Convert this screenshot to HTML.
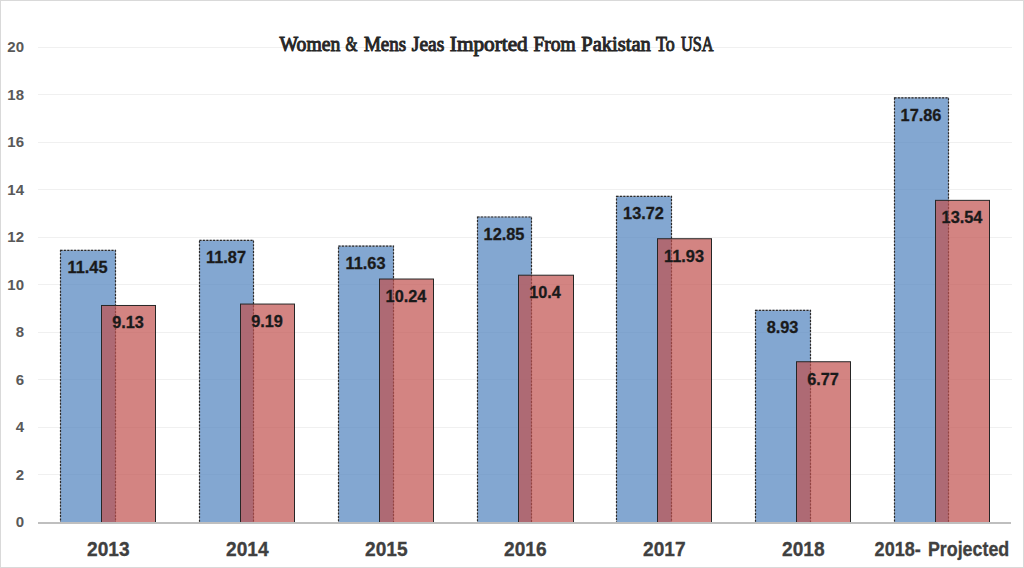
<!DOCTYPE html>
<html><head><meta charset="utf-8"><title>Chart</title>
<style>html,body{margin:0;padding:0;background:#fff;width:1024px;height:568px;overflow:hidden}svg{display:block}</style>
</head><body>
<svg width="1024" height="568" viewBox="0 0 1024 568">
<rect x="0.5" y="0.5" width="1023" height="567" fill="#fff" stroke="#d9d9d9" stroke-width="1"/>
<line x1="38.0" x2="1012.0" y1="474.5" y2="474.5" stroke="#f0f0f0" stroke-width="1"/>
<line x1="38.0" x2="1012.0" y1="427.5" y2="427.5" stroke="#f0f0f0" stroke-width="1"/>
<line x1="38.0" x2="1012.0" y1="379.5" y2="379.5" stroke="#f0f0f0" stroke-width="1"/>
<line x1="38.0" x2="1012.0" y1="332.5" y2="332.5" stroke="#f0f0f0" stroke-width="1"/>
<line x1="38.0" x2="1012.0" y1="284.5" y2="284.5" stroke="#f0f0f0" stroke-width="1"/>
<line x1="38.0" x2="1012.0" y1="237.5" y2="237.5" stroke="#f0f0f0" stroke-width="1"/>
<line x1="38.0" x2="1012.0" y1="189.5" y2="189.5" stroke="#f0f0f0" stroke-width="1"/>
<line x1="38.0" x2="1012.0" y1="142.5" y2="142.5" stroke="#f0f0f0" stroke-width="1"/>
<line x1="38.0" x2="1012.0" y1="94.5" y2="94.5" stroke="#f0f0f0" stroke-width="1"/>
<line x1="38.0" x2="1012.0" y1="47.5" y2="47.5" stroke="#f0f0f0" stroke-width="1"/>
<text transform="translate(279.59 0) scale(0.9847 1)" x="0" y="50.7" font-family="Liberation Serif, serif" font-weight="normal" font-size="20" fill="#262626" stroke="#262626" stroke-width="0.95">Women</text>
<text transform="translate(345.61 0) scale(0.7677 1)" x="0" y="50.7" font-family="Liberation Serif, serif" font-weight="normal" font-size="20" fill="#262626" stroke="#262626" stroke-width="0.95">&amp;</text>
<text transform="translate(363.90 0) scale(0.9514 1)" x="0" y="50.7" font-family="Liberation Serif, serif" font-weight="normal" font-size="20" fill="#262626" stroke="#262626" stroke-width="0.95">Mens</text>
<text transform="translate(411.80 0) scale(0.9758 1)" x="0" y="50.7" font-family="Liberation Serif, serif" font-weight="normal" font-size="20" fill="#262626" stroke="#262626" stroke-width="0.95">Jeas</text>
<text transform="translate(449.83 0) scale(1.0635 1)" x="0" y="50.7" font-family="Liberation Serif, serif" font-weight="normal" font-size="20" fill="#262626" stroke="#262626" stroke-width="0.95">Imported</text>
<text transform="translate(533.40 0) scale(0.9747 1)" x="0" y="50.7" font-family="Liberation Serif, serif" font-weight="normal" font-size="20" fill="#262626" stroke="#262626" stroke-width="0.95">From</text>
<text transform="translate(581.30 0) scale(1.0250 1)" x="0" y="50.7" font-family="Liberation Serif, serif" font-weight="normal" font-size="20" fill="#262626" stroke="#262626" stroke-width="0.95">Pakistan</text>
<text transform="translate(656.00 0) scale(0.8976 1)" x="0" y="50.7" font-family="Liberation Serif, serif" font-weight="normal" font-size="20" fill="#262626" stroke="#262626" stroke-width="0.95">To</text>
<text transform="translate(681.00 0) scale(0.8149 1)" x="0" y="50.7" font-family="Liberation Serif, serif" font-weight="normal" font-size="20" fill="#262626" stroke="#262626" stroke-width="0.95">USA</text>
<text x="24" y="527.10" text-anchor="end" font-family="Liberation Sans, sans-serif" font-weight="bold" font-size="15" fill="#595959">0</text>
<text x="24" y="479.60" text-anchor="end" font-family="Liberation Sans, sans-serif" font-weight="bold" font-size="15" fill="#595959">2</text>
<text x="24" y="432.10" text-anchor="end" font-family="Liberation Sans, sans-serif" font-weight="bold" font-size="15" fill="#595959">4</text>
<text x="24" y="384.60" text-anchor="end" font-family="Liberation Sans, sans-serif" font-weight="bold" font-size="15" fill="#595959">6</text>
<text x="24" y="337.10" text-anchor="end" font-family="Liberation Sans, sans-serif" font-weight="bold" font-size="15" fill="#595959">8</text>
<text x="24" y="289.60" text-anchor="end" font-family="Liberation Sans, sans-serif" font-weight="bold" font-size="15" fill="#595959">10</text>
<text x="24" y="242.10" text-anchor="end" font-family="Liberation Sans, sans-serif" font-weight="bold" font-size="15" fill="#595959">12</text>
<text x="24" y="194.60" text-anchor="end" font-family="Liberation Sans, sans-serif" font-weight="bold" font-size="15" fill="#595959">14</text>
<text x="24" y="147.10" text-anchor="end" font-family="Liberation Sans, sans-serif" font-weight="bold" font-size="15" fill="#595959">16</text>
<text x="24" y="99.60" text-anchor="end" font-family="Liberation Sans, sans-serif" font-weight="bold" font-size="15" fill="#595959">18</text>
<text x="24" y="52.10" text-anchor="end" font-family="Liberation Sans, sans-serif" font-weight="bold" font-size="15" fill="#595959">20</text>
<rect x="60.5" y="250.34" width="55" height="272.15999999999997" fill="#4f81bd" fill-opacity="0.7" stroke="#9ea6b4" stroke-width="1"/>
<rect x="60.5" y="250.34" width="55" height="272.15999999999997" fill="none" stroke="#2a2a2a" stroke-width="1.2" stroke-dasharray="2 1.4"/>
<rect x="199.5" y="240.34" width="54" height="282.15999999999997" fill="#4f81bd" fill-opacity="0.7" stroke="#9ea6b4" stroke-width="1"/>
<rect x="199.5" y="240.34" width="54" height="282.15999999999997" fill="none" stroke="#2a2a2a" stroke-width="1.2" stroke-dasharray="2 1.4"/>
<rect x="338.5" y="246.05" width="55" height="276.45" fill="#4f81bd" fill-opacity="0.7" stroke="#9ea6b4" stroke-width="1"/>
<rect x="338.5" y="246.05" width="55" height="276.45" fill="none" stroke="#2a2a2a" stroke-width="1.2" stroke-dasharray="2 1.4"/>
<rect x="477.5" y="217.02" width="54" height="305.48" fill="#4f81bd" fill-opacity="0.7" stroke="#9ea6b4" stroke-width="1"/>
<rect x="477.5" y="217.02" width="54" height="305.48" fill="none" stroke="#2a2a2a" stroke-width="1.2" stroke-dasharray="2 1.4"/>
<rect x="616.5" y="196.32" width="55" height="326.18" fill="#4f81bd" fill-opacity="0.7" stroke="#9ea6b4" stroke-width="1"/>
<rect x="616.5" y="196.32" width="55" height="326.18" fill="none" stroke="#2a2a2a" stroke-width="1.2" stroke-dasharray="2 1.4"/>
<rect x="755.5" y="310.3" width="55" height="212.2" fill="#4f81bd" fill-opacity="0.7" stroke="#9ea6b4" stroke-width="1"/>
<rect x="755.5" y="310.3" width="55" height="212.2" fill="none" stroke="#2a2a2a" stroke-width="1.2" stroke-dasharray="2 1.4"/>
<rect x="894.5" y="97.81" width="54" height="424.69" fill="#4f81bd" fill-opacity="0.7" stroke="#9ea6b4" stroke-width="1"/>
<rect x="894.5" y="97.81" width="54" height="424.69" fill="none" stroke="#2a2a2a" stroke-width="1.2" stroke-dasharray="2 1.4"/>
<rect x="101.5" y="305.48" width="54" height="217.01999999999998" fill="#c0504d" fill-opacity="0.7" stroke="#262626" stroke-width="1"/>
<rect x="240.5" y="304.05" width="54" height="218.45" fill="#c0504d" fill-opacity="0.7" stroke="#262626" stroke-width="1"/>
<rect x="379.5" y="279.02" width="54" height="243.48000000000002" fill="#c0504d" fill-opacity="0.7" stroke="#262626" stroke-width="1"/>
<rect x="518.5" y="275.2" width="55" height="247.3" fill="#c0504d" fill-opacity="0.7" stroke="#262626" stroke-width="1"/>
<rect x="657.5" y="238.73" width="54" height="283.77" fill="#c0504d" fill-opacity="0.7" stroke="#262626" stroke-width="1"/>
<rect x="796.5" y="361.74" width="54" height="160.76" fill="#c0504d" fill-opacity="0.7" stroke="#262626" stroke-width="1"/>
<rect x="935.5" y="200.35" width="54" height="322.15" fill="#c0504d" fill-opacity="0.7" stroke="#262626" stroke-width="1"/>
<line x1="38.0" x2="1011.0" y1="523.0" y2="523.0" stroke="#bfbfbf" stroke-width="2"/>
<text transform="translate(87.5 0) scale(0.96 1)" x="0" y="273.14" text-anchor="middle" font-family="Liberation Sans, sans-serif" font-weight="bold" font-size="17" fill="#1a1a1a" stroke="#1a1a1a" stroke-width="0.3">11.45</text>
<text transform="translate(128 0) scale(0.96 1)" x="0" y="328.28000000000003" text-anchor="middle" font-family="Liberation Sans, sans-serif" font-weight="bold" font-size="17" fill="#1a1a1a" stroke="#1a1a1a" stroke-width="0.3">9.13</text>
<text transform="translate(226.0 0) scale(0.96 1)" x="0" y="263.14" text-anchor="middle" font-family="Liberation Sans, sans-serif" font-weight="bold" font-size="17" fill="#1a1a1a" stroke="#1a1a1a" stroke-width="0.3">11.87</text>
<text transform="translate(267 0) scale(0.96 1)" x="0" y="326.85" text-anchor="middle" font-family="Liberation Sans, sans-serif" font-weight="bold" font-size="17" fill="#1a1a1a" stroke="#1a1a1a" stroke-width="0.3">9.19</text>
<text transform="translate(365.5 0) scale(0.96 1)" x="0" y="268.85" text-anchor="middle" font-family="Liberation Sans, sans-serif" font-weight="bold" font-size="17" fill="#1a1a1a" stroke="#1a1a1a" stroke-width="0.3">11.63</text>
<text transform="translate(406 0) scale(0.96 1)" x="0" y="301.82" text-anchor="middle" font-family="Liberation Sans, sans-serif" font-weight="bold" font-size="17" fill="#1a1a1a" stroke="#1a1a1a" stroke-width="0.3">10.24</text>
<text transform="translate(504.0 0) scale(0.96 1)" x="0" y="239.82000000000002" text-anchor="middle" font-family="Liberation Sans, sans-serif" font-weight="bold" font-size="17" fill="#1a1a1a" stroke="#1a1a1a" stroke-width="0.3">12.85</text>
<text transform="translate(545 0) scale(0.96 1)" x="0" y="298.0" text-anchor="middle" font-family="Liberation Sans, sans-serif" font-weight="bold" font-size="17" fill="#1a1a1a" stroke="#1a1a1a" stroke-width="0.3">10.4</text>
<text transform="translate(643.5 0) scale(0.96 1)" x="0" y="219.12" text-anchor="middle" font-family="Liberation Sans, sans-serif" font-weight="bold" font-size="17" fill="#1a1a1a" stroke="#1a1a1a" stroke-width="0.3">13.72</text>
<text transform="translate(684 0) scale(0.96 1)" x="0" y="261.53" text-anchor="middle" font-family="Liberation Sans, sans-serif" font-weight="bold" font-size="17" fill="#1a1a1a" stroke="#1a1a1a" stroke-width="0.3">11.93</text>
<text transform="translate(782.5 0) scale(0.96 1)" x="0" y="333.1" text-anchor="middle" font-family="Liberation Sans, sans-serif" font-weight="bold" font-size="17" fill="#1a1a1a" stroke="#1a1a1a" stroke-width="0.3">8.93</text>
<text transform="translate(823 0) scale(0.96 1)" x="0" y="384.54" text-anchor="middle" font-family="Liberation Sans, sans-serif" font-weight="bold" font-size="17" fill="#1a1a1a" stroke="#1a1a1a" stroke-width="0.3">6.77</text>
<text transform="translate(921.0 0) scale(0.96 1)" x="0" y="120.61" text-anchor="middle" font-family="Liberation Sans, sans-serif" font-weight="bold" font-size="17" fill="#1a1a1a" stroke="#1a1a1a" stroke-width="0.3">17.86</text>
<text transform="translate(962 0) scale(0.96 1)" x="0" y="223.15" text-anchor="middle" font-family="Liberation Sans, sans-serif" font-weight="bold" font-size="17" fill="#1a1a1a" stroke="#1a1a1a" stroke-width="0.3">13.54</text>
<text x="108.3" y="556" text-anchor="middle" font-family="Liberation Sans, sans-serif" font-weight="bold" font-size="19.5" fill="#404040" stroke="#404040" stroke-width="0.3" textLength="42.6" lengthAdjust="spacingAndGlyphs">2013</text>
<text x="247.3" y="556" text-anchor="middle" font-family="Liberation Sans, sans-serif" font-weight="bold" font-size="19.5" fill="#404040" stroke="#404040" stroke-width="0.3" textLength="42.6" lengthAdjust="spacingAndGlyphs">2014</text>
<text x="386.3" y="556" text-anchor="middle" font-family="Liberation Sans, sans-serif" font-weight="bold" font-size="19.5" fill="#404040" stroke="#404040" stroke-width="0.3" textLength="42.6" lengthAdjust="spacingAndGlyphs">2015</text>
<text x="525.3" y="556" text-anchor="middle" font-family="Liberation Sans, sans-serif" font-weight="bold" font-size="19.5" fill="#404040" stroke="#404040" stroke-width="0.3" textLength="42.6" lengthAdjust="spacingAndGlyphs">2016</text>
<text x="664.3" y="556" text-anchor="middle" font-family="Liberation Sans, sans-serif" font-weight="bold" font-size="19.5" fill="#404040" stroke="#404040" stroke-width="0.3" textLength="42.6" lengthAdjust="spacingAndGlyphs">2017</text>
<text x="803.3" y="556" text-anchor="middle" font-family="Liberation Sans, sans-serif" font-weight="bold" font-size="19.5" fill="#404040" stroke="#404040" stroke-width="0.3" textLength="42.6" lengthAdjust="spacingAndGlyphs">2018</text>
<text transform="translate(874.60 0) scale(0.9280 1)" x="0" y="556" font-family="Liberation Sans, sans-serif" font-weight="bold" font-size="19.5" fill="#404040" stroke="#404040" stroke-width="0.3">2018-</text>
<text transform="translate(927.88 0) scale(0.9161 1)" x="0" y="556" font-family="Liberation Sans, sans-serif" font-weight="bold" font-size="19.5" fill="#404040" stroke="#404040" stroke-width="0.3">Projected</text>
</svg>
</body></html>
